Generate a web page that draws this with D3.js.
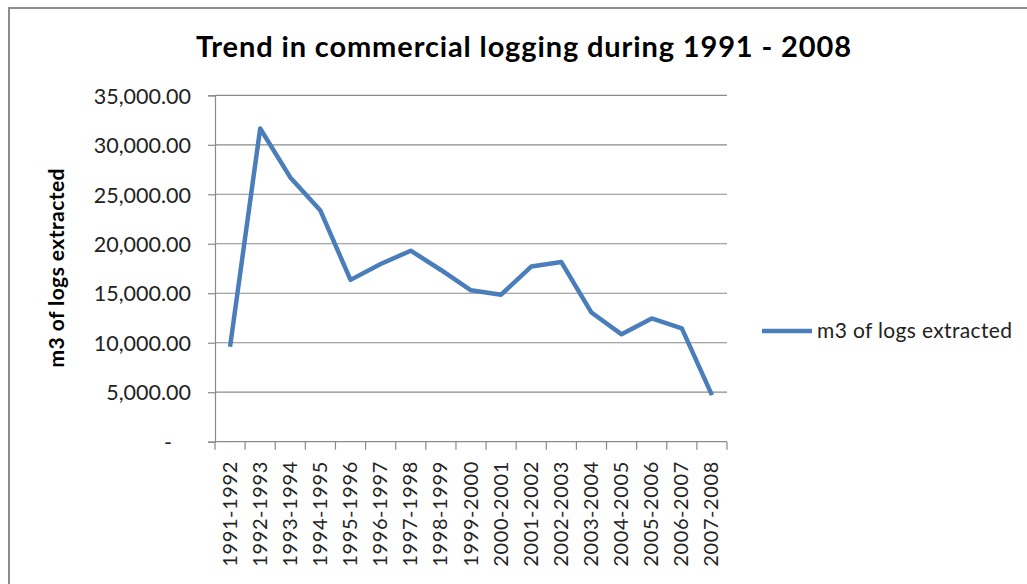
<!DOCTYPE html>
<html>
<head>
<meta charset="utf-8">
<title>Trend in commercial logging</title>
<script src="https://cdn.jsdelivr.net/npm/d3@7"></script>
<style>
    body { margin: 0; background: #fff; }
    svg { display: block; }
</style>
</head>
<body>
<script>
'use strict';

// data
const periods = ["1991-1992", "1992-1993", "1993-1994", "1994-1995", "1995-1996", "1996-1997",
    "1997-1998", "1998-1999", "1999-2000", "2000-2001", "2001-2002", "2002-2003", "2003-2004",
    "2004-2005", "2005-2006", "2006-2007", "2007-2008"];
const logsExtracted = [9600, 31650, 26700, 23350, 16350, 17950, 19300, 17350, 15300, 14850,
    17700, 18150, 13050, 10850, 12450, 11450, 4700];
const yTicks = [0, 5000, 10000, 15000, 20000, 25000, 30000, 35000];
const seriesName = "m3 of logs extracted";
const chartTitle = "Trend in commercial logging during 1991 - 2008";

(function () {
    const W = 1027, H = 584;
    const font = "Lato, 'Open Sans', sans-serif";
    const left = 215, right = 727;

    var svg = d3.select("body").append("svg")
        .attr("width", W)
        .attr("height", H);

    // chart frame (cut off at right and bottom)
    svg.append("rect")
        .attr("x", 9).attr("y", 8)
        .attr("width", W + 10).attr("height", H + 10)
        .attr("fill", "#fff")
        .attr("stroke", "#8c8c8c")
        .attr("stroke-width", 2);

    //scales
    var x = d3.scaleBand()
        .domain(periods)
        .range([left, right]);
    var y = d3.scaleLinear()
        .domain([0, 35000])
        .range([441.7, 95.3]);

    // gridlines
    svg.append("g")
        .selectAll("line")
        .data(yTicks.filter(d => d > 0))
        .enter()
        .append("line")
        .attr("x1", left).attr("x2", right)
        .attr("y1", d => y(d)).attr("y2", d => y(d))
        .attr("stroke", "#8a8a8a")
        .attr("stroke-width", 1.2);

    // y axis
    var fmt = d3.format(",.2f");
    var yAxis = svg.append("g")
        .attr("transform", "translate(" + left + ",0)")
        .call(d3.axisLeft(y)
            .tickValues(yTicks)
            .tickSize(7)
            .tickPadding(17)
            .tickFormat(d => d === 0 ? "-" : fmt(d)));
    yAxis.select(".domain").attr("stroke", "#8a8a8a").attr("stroke-width", 1.2);
    yAxis.selectAll(".tick line").attr("stroke", "#8a8a8a").attr("stroke-width", 1.2);
    yAxis.selectAll(".tick text")
        .attr("fill", "#222")
        .style("font-family", font)
        .style("font-size", "21.5px")
        .attr("dx", d => d === 0 ? -19 : 0)
        .attr("dy", "0.36em");

    // x axis, ticks on band edges
    var xAxis = svg.append("g")
        .attr("transform", "translate(0,441.7)");
    xAxis.append("line")
        .attr("x1", left).attr("x2", right)
        .attr("stroke", "#8a8a8a").attr("stroke-width", 1.2);
    xAxis.selectAll("line.tk")
        .data(periods.concat(["end"]))
        .enter()
        .append("line")
        .attr("class", "tk")
        .attr("x1", (d, i) => left + i * x.bandwidth())
        .attr("x2", (d, i) => left + i * x.bandwidth())
        .attr("y1", 0).attr("y2", 8)
        .attr("stroke", "#8a8a8a").attr("stroke-width", 1.2);
    xAxis.selectAll("text")
        .data(periods)
        .enter()
        .append("text")
        .attr("transform", d => "translate(" + (x(d) + x.bandwidth() / 2 + 6.5) + ",20) rotate(-90)")
        .attr("text-anchor", "end")
        .attr("fill", "#222")
        .style("font-family", font)
        .style("font-size", "20px")
        .attr("textLength", 105)
        .text(d => d);

    // the series line
    var line = d3.line()
        .x((d, i) => x(periods[i]) + x.bandwidth() / 2)
        .y(d => y(d));
    svg.append("path")
        .datum(logsExtracted)
        .attr("d", line)
        .attr("fill", "none")
        .attr("stroke", "#4a7ebb")
        .attr("stroke-width", 4.5)
        .attr("stroke-linejoin", "round");

    // title
    svg.append("text")
        .attr("x", 196).attr("y", 57)
        .style("font-family", font)
        .style("font-weight", "bold")
        .style("font-size", "29px")
        .attr("textLength", 655)
        .attr("fill", "#000")
        .text(chartTitle);

    // y axis title
    svg.append("text")
        .attr("transform", "translate(64,268) rotate(-90)")
        .attr("text-anchor", "middle")
        .style("font-family", font)
        .style("font-weight", "bold")
        .style("font-size", "21px")
        .attr("textLength", 199)
        .attr("fill", "#000")
        .text(seriesName);

    // legend
    var legend = svg.append("g").attr("transform", "translate(762,331)");
    legend.append("line")
        .attr("x1", 0).attr("x2", 50)
        .attr("stroke", "#4a7ebb")
        .attr("stroke-width", 4.5);
    legend.append("text")
        .attr("x", 55).attr("y", 7)
        .style("font-family", font)
        .style("font-size", "21px")
        .attr("textLength", 195)
        .attr("fill", "#222")
        .text(seriesName);
})();
</script>
</body>
</html>
